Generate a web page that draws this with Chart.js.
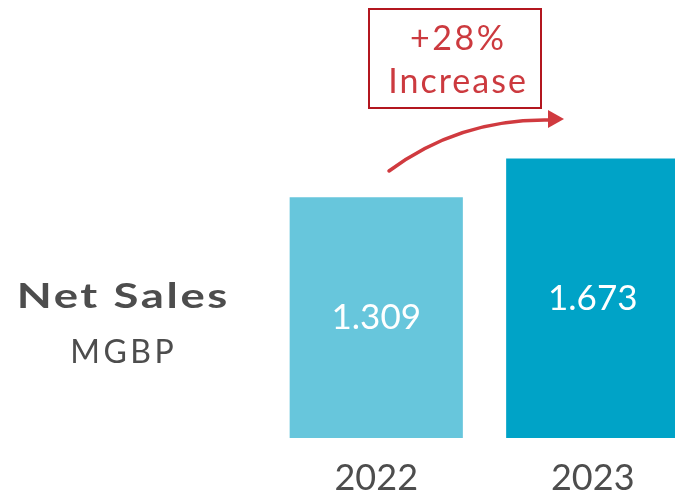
<!DOCTYPE html>
<html>
<head>
<meta charset="utf-8">
<script src="https://cdn.jsdelivr.net/npm/chart.js@4"></script>
<style>
  html, body { margin: 0; padding: 0; background: #fff; overflow: hidden; }
  #wrap { width: 675px; height: 495px; overflow: hidden; }
</style>
</head>
<body>
<div id="wrap"><canvas id="salesChart" width="701" height="510"></canvas></div>
<script>
// --- chart data ---
const years = ['2022', '2023'];
const netSales = [1.309, 1.673];
const valueLabels = ['1.309', '1.673'];
const barColors = ['#67c6dc', '#00a3c7'];

// value axis does not start at zero in the original
const axisMin = -0.95;
const axisMax = 3.16;

const GRAY = '#4d4d4d';
const FONT = 'Lato, "Open Sans", sans-serif';

function wideText(ctx, text, x, y, font, spacing, stretch) {
    ctx.save();
    ctx.font = font;
    ctx.letterSpacing = spacing + 'px';
    ctx.textAlign = 'center';
    ctx.translate(x + spacing / 2 * stretch, y);
    ctx.scale(stretch, 1);
    ctx.fillText(text, 0, 0);
    ctx.restore();
}

// side title, values inside bars and the +28% callout
const overlayPlugin = {
    id: 'overlay',
    afterDatasetsDraw(chart) {
        const ctx = chart.ctx;
        const meta = chart.getDatasetMeta(0);
        ctx.save();

        // values inside bars
        ctx.fillStyle = '#ffffff';
        ctx.font = '35px ' + FONT;
        ctx.textAlign = 'center';
        ctx.textBaseline = 'middle';
        meta.data.forEach((bar, i) => {
            const mid = (bar.y + bar.base) / 2;
            ctx.fillText(valueLabels[i], bar.x, mid);
        });

        // left title
        ctx.textBaseline = 'alphabetic';
        ctx.fillStyle = GRAY;
        wideText(ctx, 'Net Sales', 122, 308, 'bold 35px ' + FONT, 2, 1.3);
        wideText(ctx, 'MGBP', 122, 363, '32px ' + FONT, 3.5, 1);

        // callout box
        ctx.strokeStyle = '#b3161f';
        ctx.lineWidth = 2;
        ctx.strokeRect(369, 9, 172, 99);
        ctx.fillStyle = '#cc3a3f';
        wideText(ctx, '+28%', 457, 50, '34px ' + FONT, 2.5, 1);
        wideText(ctx, 'Increase', 457, 93, '34px ' + FONT, 2, 1);

        // curved arrow
        ctx.strokeStyle = '#d03a3f';
        ctx.lineWidth = 3.5;
        ctx.lineCap = 'round';
        ctx.beginPath();
        ctx.moveTo(389, 171);
        ctx.quadraticCurveTo(460, 118, 551, 120);
        ctx.stroke();
        ctx.fillStyle = '#d03a3f';
        ctx.beginPath();
        ctx.moveTo(564, 119);
        ctx.lineTo(548, 110);
        ctx.lineTo(548, 128);
        ctx.closePath();
        ctx.fill();

        ctx.restore();
    }
};

new Chart(document.getElementById('salesChart'), {
    type: 'bar',
    data: {
        labels: years,
        datasets: [{
            data: netSales,
            base: axisMin,
            backgroundColor: barColors,
            borderWidth: 0,
            categoryPercentage: 0.8,
            barPercentage: 1.0
        }]
    },
    options: {
        responsive: false,
        animation: false,
        events: [],
        layout: { padding: { left: 268, right: 0, top: 0, bottom: 0 } },
        plugins: { legend: { display: false }, tooltip: { enabled: false } },
        scales: {
            x: {
                grid: { display: false },
                border: { display: false },
                ticks: {
                    color: GRAY,
                    padding: 14,
                    font: { family: FONT, size: 36, lineHeight: 1 }
                }
            },
            y: {
                display: false,
                min: axisMin,
                max: axisMax
            }
        }
    },
    plugins: [overlayPlugin]
});
</script>
</body>
</html>
